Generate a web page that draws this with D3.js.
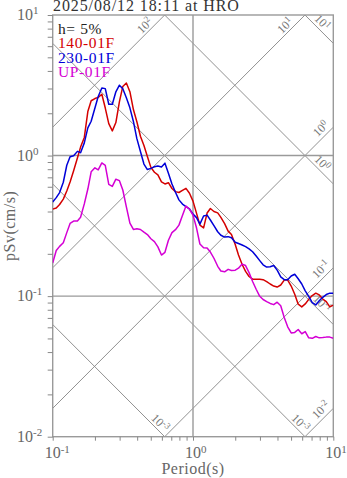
<!DOCTYPE html>
<html><head><meta charset="utf-8">
<script src="https://cdn.jsdelivr.net/npm/d3@7"></script>
<style>body{margin:0;background:#fff}svg{display:block}</style>
</head><body>
<svg id="chart" width="347" height="478"></svg>
<script>
// Pseudo-velocity response spectra (h = 5%), tripartite log-log plot
const titleText = "2025/08/12 18:11 at HRO";
const damping = "h= 5%";
const seriesNames = ["140-01F", "230-01F", "UP-01F"];
const seriesColors = ["#d40000", "#0000d8", "#d400d4"];

const periods = [0.1,0.106,0.112,0.119,0.126,0.133,0.141,0.150,0.158,0.168,0.178,0.188,0.200,0.211,0.224,0.237,0.251,0.266,0.282,0.299,
  0.316,0.335,0.355,0.376,0.398,0.422,0.447,0.473,0.501,0.531,0.562,0.596,0.631,0.668,0.708,0.750,0.794,0.841,0.891,0.944,
  1.0,1.06,1.12,1.19,1.26,1.33,1.41,1.50,1.58,1.68,1.78,1.88,2.00,2.11,2.24,2.37,2.51,2.66,2.82,2.99,
  3.16,3.35,3.55,3.76,3.98,4.22,4.47,4.73,5.01,5.31,5.62,5.96,6.31,6.68,7.08,7.50,7.94,8.41,8.91,9.44,10.0];

const sv140 = [0.416,0.424,0.449,0.490,0.560,0.648,0.781,0.960,1.149,1.345,2.057,2.455,2.545,2.596,2.732,2.178,1.687,1.499,1.718,2.423,
  3.103,3.286,2.846,2.125,1.740,1.372,1.180,0.984,0.824,0.761,0.728,0.650,0.628,0.641,0.583,0.554,0.546,0.565,0.584,0.540,
  0.474,0.388,0.320,0.306,0.390,0.420,0.400,0.391,0.363,0.328,0.290,0.274,0.233,0.196,0.168,0.150,0.138,0.132,0.132,0.132,
  0.131,0.127,0.122,0.118,0.116,0.120,0.130,0.130,0.118,0.103,0.0876,0.0838,0.0880,0.0949,0.101,0.105,0.102,0.0954,0.0914,0.0839,0.0863];

const sv230 = [0.467,0.502,0.545,0.646,0.853,0.981,0.998,1.071,1.049,1.231,1.572,1.754,2.182,2.634,3.023,2.994,2.318,2.318,2.841,3.165,
  2.984,2.579,2.185,1.748,1.319,1.070,0.870,0.795,0.811,0.832,0.842,0.830,0.883,0.748,0.627,0.549,0.484,0.452,0.434,0.417,
  0.383,0.362,0.325,0.372,0.377,0.348,0.317,0.287,0.271,0.263,0.265,0.260,0.242,0.237,0.231,0.225,0.217,0.207,0.193,0.179,
  0.167,0.161,0.162,0.165,0.153,0.137,0.131,0.131,0.139,0.143,0.133,0.122,0.109,0.0997,0.0900,0.0865,0.0926,0.0981,0.1026,0.105,0.105];

const svUP = [0.172,0.211,0.226,0.240,0.283,0.329,0.342,0.343,0.364,0.453,0.578,0.766,0.818,0.791,0.886,0.852,0.624,0.604,0.679,0.663,
  0.569,0.431,0.331,0.298,0.302,0.298,0.285,0.274,0.256,0.244,0.224,0.196,0.205,0.250,0.283,0.297,0.320,0.374,0.437,0.415,
  0.377,0.305,0.235,0.221,0.220,0.206,0.186,0.163,0.151,0.149,0.155,0.152,0.153,0.158,0.169,0.165,0.147,0.127,0.112,0.0997,
  0.0946,0.0915,0.0887,0.0870,0.0905,0.0855,0.0704,0.0605,0.0547,0.0552,0.0579,0.0540,0.0560,0.0505,0.0501,0.0516,0.0505,0.0507,0.0511,0.0511,0.0502];

const seriesValues = [sv140, sv230, svUP];

// Tripartite reference lines: pseudo-acceleration (cm/s^2) and displacement (cm)
const accLevels = [100, 10, 1, 0.1, 0.01];
const accExp = ["2", "1", "0", "-1", "-2"];
const dispLevels = [10, 1, 0.1, 0.01, 0.001];
const dispExp = ["1", "0", "-1", "-3", "-3"];

const xTickValues = [0.1,0.2,0.3,0.4,0.5,0.6,0.7,0.8,0.9,1,2,3,4,5,6,7,8,9,10];
const yTickValues = [0.01,0.02,0.03,0.04,0.05,0.06,0.07,0.08,0.09,0.1,0.2,0.3,0.4,0.5,0.6,0.7,0.8,0.9,1,2,3,4,5,6,7,8,9,10];
const xMajor = [[0.1, "-1"], [1, "0"], [10, "1"]];
const yMajor = [[10, "1"], [1, "0"], [0.1, "-1"], [0.01, "-2"]];

const W = 347, H = 478;
const m = {left: 52.7, right: 13.7, top: 15, bottom: 41.3};
const T0 = 0.1, T1 = 10, S0 = 0.01, S1 = 10;
const x = d3.scaleLog().domain([T0, T1]).range([m.left, W - m.right]);
const y = d3.scaleLog().domain([S0, S1]).range([H - m.bottom, m.top]);
const serif = "'Liberation Serif','Times New Roman',serif";
const TWO_PI = 2 * Math.PI;

const svg = d3.select("#chart");
svg.append("defs").append("clipPath").attr("id", "plotClip")
  .append("rect").attr("x", x(T0)).attr("y", y(S1))
  .attr("width", x(T1) - x(T0)).attr("height", y(S0) - y(S1));

// diagonal lines
const diag = svg.append("g").attr("clip-path", "url(#plotClip)")
  .attr("stroke", "#858585").attr("stroke-width", 0.9).attr("fill", "none");
accLevels.forEach(a => {
  diag.append("line").attr("x1", x(T0)).attr("y1", y(a * T0 / TWO_PI))
    .attr("x2", x(T1)).attr("y2", y(a * T1 / TWO_PI));
});
dispLevels.forEach(d => {
  diag.append("line").attr("x1", x(T0)).attr("y1", y(TWO_PI * d / T0))
    .attr("x2", x(T1)).attr("y2", y(TWO_PI * d / T1));
});

// diagonal labels
function diagLabel(cx, cy, angle, exp) {
  const t = svg.append("text").attr("transform", `translate(${cx},${cy}) rotate(${angle})`)
    .attr("text-anchor", "middle").attr("y", 4)
    .attr("font-family", serif).attr("font-size", 12).attr("fill", "#777");
  t.append("tspan").text("10");
  t.append("tspan").attr("dy", -4).attr("font-size", 9).text(exp);
}
accLevels.forEach((a, i) => {
  const tEnd = Math.min(T1, TWO_PI * S1 / a);
  const ex = x(tEnd), ey = y(a * tEnd / TWO_PI);
  if (tEnd < T1) diagLabel(ex - 20, ey + 10.5, -45, accExp[i]);
  else diagLabel(ex - 12.5, ey + 1.5, -45, accExp[i]);
});
dispLevels.forEach((d, i) => {
  const tEnd = Math.min(T1, TWO_PI * d / S0);
  const ex = x(tEnd), ey = y(TWO_PI * d / tEnd);
  if (tEnd < T1) diagLabel(ex - 4.5, ey - 14, 45, dispExp[i]);
  else diagLabel(ex - 11, ey - 21, 45, dispExp[i]);
});

// grid lines at decades
const grid = svg.append("g").attr("stroke", "#9a9a9a").attr("stroke-width", 1.4);
grid.append("line").attr("x1", x(1)).attr("x2", x(1)).attr("y1", y(S0)).attr("y2", y(S1));
[1, 0.1].forEach(v => grid.append("line").attr("x1", x(T0)).attr("x2", x(T1)).attr("y1", y(v)).attr("y2", y(v)));

// frame
svg.append("rect").attr("x", x(T0)).attr("y", y(S1))
  .attr("width", x(T1) - x(T0)).attr("height", y(S0) - y(S1))
  .attr("fill", "none").attr("stroke", "#9a9a9a").attr("stroke-width", 1.4);

// axes ticks
const xAxis = svg.append("g").attr("transform", `translate(0,${y(S0)})`)
  .call(d3.axisBottom(x).tickValues(xTickValues).tickSize(4).tickFormat(""));
const yAxis = svg.append("g").attr("transform", `translate(${x(T0)},0)`)
  .call(d3.axisLeft(y).tickValues(yTickValues).tickSize(5).tickFormat(""));
[xAxis, yAxis].forEach(g => {
  g.select(".domain").remove();
  g.selectAll(".tick line").attr("stroke", "#888").attr("stroke-width", 1);
});

// tick labels
const lab = svg.append("g").attr("font-family", serif).attr("fill", "#666");
xMajor.forEach(([v, e]) => {
  lab.append("text").attr("x", x(v)).attr("y", 458).attr("text-anchor", "middle").attr("font-size", 16).text("10");
  lab.append("text").attr("x", x(v) + 8).attr("y", 452.5).attr("font-size", 11).text(e);
});
yMajor.forEach(([v, e]) => {
  lab.append("text").attr("x", 17).attr("y", y(v) + 5).attr("font-size", 16).text("10");
  lab.append("text").attr("x", 33).attr("y", y(v) - 1).attr("font-size", 11).text(e);
});
lab.append("text").attr("x", x(1)).attr("y", 473.5).attr("text-anchor", "middle").attr("font-size", 16)
  .attr("letter-spacing", 0.5).text("Period(s)");
lab.append("text").attr("transform", `translate(15,${(y(S0) + y(S1)) / 2}) rotate(-90)`)
  .attr("text-anchor", "middle").attr("font-size", 16).attr("letter-spacing", 0.5).text("pSv(cm/s)");

// spectra
const line = d3.line().x((d, i) => x(periods[i])).y(d => y(d));
const curves = svg.append("g").attr("clip-path", "url(#plotClip)");
seriesValues.forEach((vals, k) => {
  curves.append("path").datum(vals).attr("d", line)
    .attr("fill", "none").attr("stroke", seriesColors[k]).attr("stroke-width", 1.5)
    .attr("stroke-linejoin", "round");
});

// title and legend
svg.append("text").attr("x", 53).attr("y", 11).attr("font-family", serif).attr("font-size", 16)
  .attr("letter-spacing", 0.9).attr("fill", "#333").text(titleText);
const leg = svg.append("g").attr("font-family", serif).attr("font-size", 15.5).attr("letter-spacing", 0.6);
leg.append("text").attr("x", 58).attr("y", 33.5).attr("fill", "#222").text(damping);
seriesNames.forEach((n, k) => {
  leg.append("text").attr("x", 58).attr("y", 48 + 14.5 * k).attr("fill", seriesColors[k]).text(n);
});
</script>
</body></html>
